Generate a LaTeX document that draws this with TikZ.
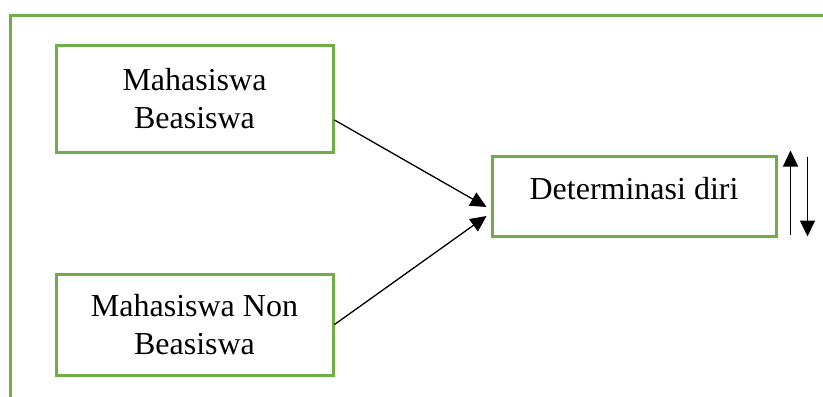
\documentclass[tikz,border=0pt]{standalone}
\usepackage{fontspec}
\setmainfont{Liberation Serif}
\usepackage{xcolor}
\usepackage{tikz}
\usetikzlibrary{arrows.meta}

\definecolor{boxgreen}{HTML}{70AD47}

\begin{document}
\begin{tikzpicture}[x=0.5pt, y=-0.5pt,
		varbox/.style={draw=boxgreen, line width=1.5pt, align=center, font=\fontsize{16}{19}\selectfont},
		link/.style={-{Triangle[length=8pt,width=7.5pt]}, line width=0.65pt}]
				\useasboundingbox (0, 0) rectangle (823, 396);
				
				%Frame
				\draw[boxgreen, line width=1.5pt] (10, 397) -- (10, 15) -- (824, 15);
				
				%Level 1
				\node[varbox, minimum width=138.5pt, minimum height=53.5pt] (beasiswa) at (194.5, 98.5) {Mahasiswa\\Beasiswa};
				\node[varbox, minimum width=138.5pt, minimum height=50.5pt] (nonbeasiswa) at (194.5, 324.5) {Mahasiswa Non\\Beasiswa};
				
				%Level 2
				\node[varbox, minimum width=142pt, minimum height=40pt, text height=11pt, text depth=8pt] (determinasi) at (634, 196) {Determinasi diri};
				
				%Lines
				\draw[link] ([yshift=-10.75pt]beasiswa.east) -- ([xshift=-2pt, yshift=-5.5pt]determinasi.west);
				\draw[link] (nonbeasiswa.east) -- ([xshift=-2pt, yshift=-10pt]determinasi.west);
				
				%Up and down
				\draw[link] ([xshift=6.5pt, yshift=1.5pt]determinasi.south east) -- ([xshift=6.5pt, yshift=2pt]determinasi.north east);
				\draw[link] ([xshift=15pt, yshift=-1pt]determinasi.north east) -- ([xshift=15pt, yshift=0.5pt]determinasi.south east);
			\end{tikzpicture}
\end{document}
